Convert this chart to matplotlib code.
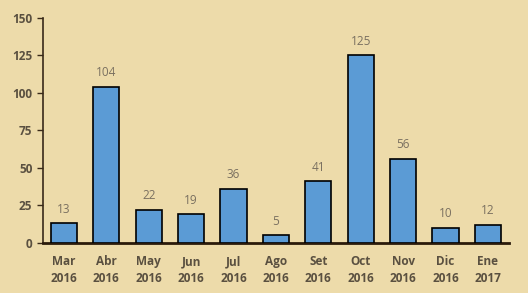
import matplotlib
matplotlib.use('Agg')
import matplotlib.pyplot as plt

categories = ['Mar\n2016', 'Abr\n2016', 'May\n2016', 'Jun\n2016', 'Jul\n2016', 'Ago\n2016',
              'Set\n2016', 'Oct\n2016', 'Nov\n2016', 'Dic\n2016', 'Ene\n2017']
values = [13, 104, 22, 19, 36, 5, 41, 125, 56, 10, 12]
y_ticks = [0, 25, 50, 75, 100, 125, 150]

plt.rcParams['font.family'] = ['Open Sans', 'DejaVu Sans']

bg = '#EDDBAA'
fig = plt.figure(figsize=(5.28, 2.93), dpi=100, facecolor=bg)
ax = fig.add_axes([0.081, 0.171, 0.883, 0.768])
ax.set_facecolor(bg)

x = range(len(values))
ax.bar(x, values, width=0.62, color='#5B9BD5', edgecolor='black', linewidth=1.2, zorder=3)
for xi, v in zip(x, values):
    ax.text(xi, v + 5, str(v), ha='center', va='bottom', fontsize=8.5, color='#7a7060')

ax.set_xlim(-0.5, len(values) - 0.5)
ax.set_ylim(0, 150)
ax.set_yticks(y_ticks)
ax.set_xticks(list(x))
ax.set_xticklabels(categories, fontsize=8.5, fontweight='bold', color='#5a5040', linespacing=1.35)
ax.tick_params(axis='y', labelsize=8.5, labelcolor='#5a5040', length=4, width=1, color='#3a2a1a', direction='out')
for lbl in ax.get_yticklabels():
    lbl.set_fontweight('bold')
ax.tick_params(axis='x', length=0, pad=9)

ax.spines['top'].set_visible(False)
ax.spines['right'].set_visible(False)
ax.spines['left'].set_color('#3a2a1a')
ax.spines['left'].set_linewidth(1.2)
ax.spines['bottom'].set_color('#2a1a0a')
ax.spines['bottom'].set_linewidth(2)

fig.savefig('out.png', dpi=100, facecolor=bg)
